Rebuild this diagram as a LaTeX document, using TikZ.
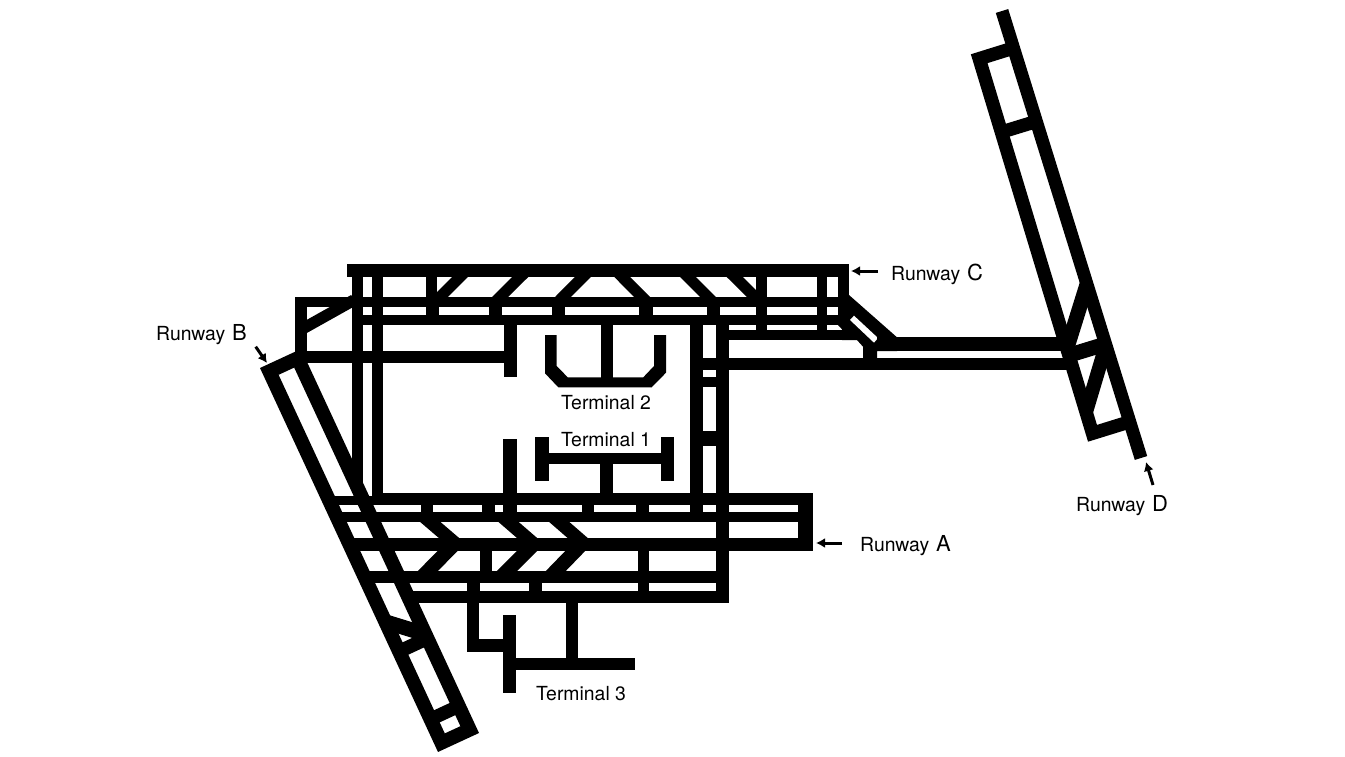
\documentclass[tikz,border=0pt]{standalone}
\usepackage{fontspec}
\setmainfont{TeX Gyre Heros}
\usetikzlibrary{arrows.meta}
\newcommand{\bx}[4]{\fill (#1,#3) rectangle (#2,#4);}
\tikzset{
  road/.style={draw=black,line width=#1,miter limit=10,line join=miter,line cap=butt},
  lbl/.style={inner sep=0pt,font=\fontsize{19.4}{22}\selectfont,text=black},
  pointer/.style={draw=black,line width=3pt,-{Latex[length=9pt,width=10pt]}}
}
\newcommand{\biglet}[1]{\hspace{1.5pt}{\fontsize{22}{22}\selectfont #1}}
\begin{document}
\begin{tikzpicture}[x=1pt,y=-1pt]
\useasboundingbox (0,0) rectangle (1345,757);
% Runway C and the bands under it
\bx{347}{849}{264}{277}
\bx{295}{849}{297}{307}
\bx{352}{842}{315}{325}
\bx{729}{857}{330}{340}
\bx{295}{307}{297}{355}
\bx{300}{503.5}{351}{363}
\bx{503.5}{516.5}{315}{377}
\draw[road=11.5pt] (304,328) -- (354,300);
% verticals from Runway C
\bx{352}{363}{264}{490}
\bx{372}{383}{264}{497}
\bx{426}{437}{277}{300}
\bx{426}{439}{297}{325}
\bx{489}{502}{297}{325}
\bx{551.7}{565}{297}{325}
\bx{639.3}{652.7}{297}{325}
\bx{706.7}{720}{297}{325}
\bx{755.7}{766.7}{277}{340}
\bx{816.7}{827.3}{277}{340}
\bx{838.3}{849}{264}{325}
% diagonals under Runway C
\draw[road=11.3pt] (466,271) -- (435,302);
\draw[road=11.3pt] (526.3,271) -- (495,302);
\draw[road=11.3pt] (588.8,271) -- (558,302);
\draw[road=11.3pt] (616.3,271) -- (647,302);
\draw[road=11.3pt] (682,271) -- (713,302);
\draw[road=11.3pt] (728.7,271) -- (760,302);
% junction towards Runway D
\fill (838,295) -- (849,295) -- (897,337.3) -- (897,351) -- (877,351) -- (877,358) -- (863,358) -- (863,346.7) -- (857,340) -- (842,340) -- (842,329.3) -- (838,325) -- cycle;
\fill[white] (850,320) -- (854,315.7) -- (878,338) -- (874,342.7) -- cycle;
\bx{690}{1072}{358}{370}
\bx{877}{1066}{337.3}{350.7}
% central verticals
\bx{690}{703.3}{325}{495}
\bx{716}{729}{325}{603}
\bx{703}{716}{376.7}{386.7}
\bx{703}{716}{430.7}{446}
% Terminal 2
\fill (545,335) -- (545,373.3) -- (558.3,387.3) -- (651.7,387.3) -- (666,372.7) -- (666,335) -- (654,335) -- (654,366) -- (643.3,377.3) -- (567.7,377.3) -- (556.7,366) -- (556.7,335) -- cycle;
\bx{601}{612.7}{325}{380}
% Terminal 1
\bx{535}{548.7}{436.7}{480.7}
\bx{660.7}{674}{436.7}{480.7}
\bx{548}{661}{452.7}{464}
\bx{600}{612.7}{464}{495}
\bx{503}{516.7}{439}{505}
% Runway A and the bands
\bx{329}{813}{496}{505}
\bx{383}{813}{492.7}{505}
\bx{336}{800}{511.7}{521.7}
\bx{349}{813}{538.3}{551}
\bx{364}{729}{571}{583}
\bx{408}{729}{591}{603}
\bx{798}{813}{493}{551}
\bx{421}{433}{504}{512}
\bx{482}{495}{504}{512}
\bx{503}{516.7}{504}{512}
\bx{581.7}{594.3}{504}{512}
\bx{636}{649.3}{504}{512}
\bx{690}{703.3}{504}{512}
\bx{480}{492.3}{550}{572}
\bx{637.7}{649.3}{550}{592}
\bx{466.7}{480}{582}{592}
\bx{529}{542.3}{582}{592}
% chevrons
\draw[road=13.2pt] (424.5,517) -- (456,544);
\draw[road=14.3pt] (453.4,545) -- (422,577);
\draw[road=13.2pt] (502.8,517) -- (534,544);
\draw[road=14.3pt] (533,545) -- (501,577);
\draw[road=13.2pt] (553.5,517) -- (584.6,544);
\draw[road=14.3pt] (581,545) -- (550,577);
% Terminal 3
\bx{466.7}{479.3}{603}{651.7}
\bx{466.7}{503}{638.5}{651.7}
\bx{503}{515.7}{615}{693}
\bx{515}{635}{658}{670}
\bx{565.7}{577.7}{603}{658}
% Runway B
\draw[road=14pt] (269.3,371.4) -- (297.6,358.3) -- (469.7,729.6) -- (441.4,742.7) -- cycle;
\draw[road=13.4pt] (432.8,718.2) -- (458.2,706.4);
\draw[road=13.6pt] (399.3,651.4) -- (424.7,639.6);
\draw[road=15pt] (386,622) -- (425,634);
% Runway D
\draw[road=13pt] (1002,11) -- (1141,458);
\draw[road=13.4pt] (1013.5,48) -- (979.2,58.7) -- (1092.5,433.3) -- (1129.6,421.8);
\draw[road=13.4pt] (1003,131.6) -- (1033,122.4);
\draw[road=14.7pt] (1087,284) -- (1067,348);
\draw[road=15pt] (1068,355.5) -- (1105,344.2);
\draw[road=14pt] (1106,345) -- (1086,412);
% labels
\node[lbl,anchor=west] (t2) at (561,403) {Terminal 2};
\node[lbl,anchor=west] (t1) at (561,440) {Terminal 1};
\node[lbl,anchor=west] (t3) at (536,694) {Terminal 3};
\node[lbl,anchor=west] (rc) at (891,274) {Runway \biglet{C}};
\node[lbl,anchor=west] (ra) at (860,546) {Runway \biglet{A}};
\node[lbl,anchor=west] (rb) at (156,335) {Runway \biglet{B}};
\node[lbl,anchor=west] (rd) at (1076,506) {Runway \biglet{D}};
% pointers
\coordinate (pc1) at (878,271); \coordinate (pc2) at (851,271);
\coordinate (pa1) at (842,543); \coordinate (pa2) at (816,543);
\coordinate (pb1) at (255.7,346.7); \coordinate (pb2) at (267,363);
\coordinate (pd1) at (1153,485); \coordinate (pd2) at (1146,462);
\draw[pointer] (pc1) -- (pc2);
\draw[pointer] (pa1) -- (pa2);
\draw[pointer] (pb1) -- (pb2);
\draw[pointer] (pd1) -- (pd2);
\end{tikzpicture}
\end{document}
